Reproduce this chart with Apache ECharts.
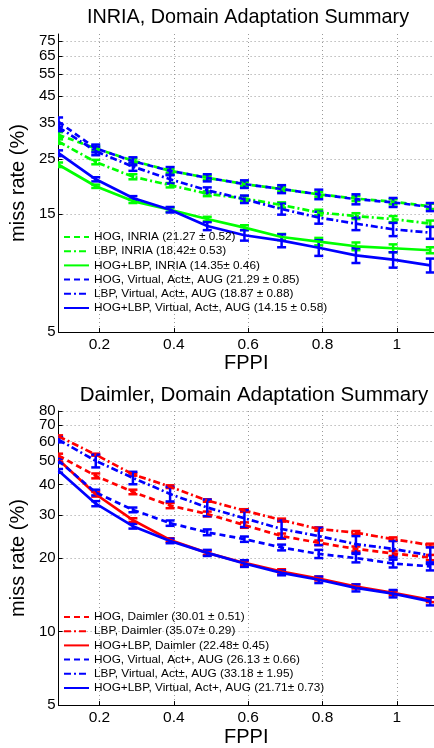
<!DOCTYPE html>
<html><head><meta charset="utf-8">
<script src="https://cdn.jsdelivr.net/npm/echarts@6/dist/echarts.min.js"></script>
<style>html,body{margin:0;padding:0;background:#fff}#c{width:434px;height:748px}</style>
</head><body><div id="c"></div>
<script>
// ---- data ----
const fppi = [0.09, 0.19, 0.29, 0.39, 0.49, 0.59, 0.69, 0.79, 0.89, 0.99, 1.09];
const xTicks = [0.2, 0.4, 0.6, 0.8, 1];
const yTicksTop = [5, 15, 25, 35, 45, 55, 65, 75];
const yTicksBottom = [5, 10, 20, 30, 40, 50, 60, 70, 80];

const titleTop = 'INRIA, Domain Adaptation Summary';
const titleBottom = 'Daimler, Domain Adaptation Summary';

// INRIA panel
const namesTop = [
  'HOG, INRIA (21.27 ± 0.52)',
  'LBP, INRIA (18.42± 0.53)',
  'HOG+LBP, INRIA (14.35± 0.46)',
  'HOG, Virtual, Act±, AUG (21.29 ± 0.85)',
  'LBP, Virtual, Act±, AUG (18.87 ± 0.88)',
  'HOG+LBP, Virtual, Act±, AUG (14.15 ± 0.58)'
];
const hogInria      = [31.3, 27.6, 24.6, 22.4, 21.0, 19.8, 18.9, 18.0, 17.3, 16.8, 16.1];
const lbpInria      = [29.4, 24.3, 21.2, 19.6, 18.1, 17.3, 16.3, 15.2, 14.7, 14.3, 13.7];
const hogLbpInria   = [23.7, 19.4, 16.9, 15.6, 14.3, 13.2, 12.1, 11.6, 11.1, 10.9, 10.7];
const hogVirtI      = [35.3, 27.6, 24.5, 22.4, 21.0, 19.8, 18.9, 18.0, 17.2, 16.7, 16.0];
const lbpVirtI      = [33.6, 26.9, 23.3, 20.7, 18.7, 17.2, 15.7, 14.5, 13.7, 13.0, 12.6];
const hogLbpVirtI   = [26.4, 20.7, 17.4, 15.6, 13.4, 12.3, 11.7, 10.95, 10.2, 9.8, 9.3];
const errHogInria    = [0.8, 0.5, 0.5, 0.4, 0.4, 0.4, 0.4, 0.4, 0.4, 0.4, 0.4];
const errLbpInria    = [0.6, 0.5, 0.5, 0.4, 0.4, 0.4, 0.4, 0.4, 0.4, 0.4, 0.4];
const errHogLbpInria = [0.5, 0.3, 0.3, 0.3, 0.3, 0.3, 0.35, 0.4, 0.4, 0.4, 0.3];
const errHogVirtI    = [1.5, 1.0, 0.9, 0.8, 0.7, 0.7, 0.7, 0.8, 0.8, 0.7, 0.6];
const errLbpVirtI    = [1.2, 1.0, 0.9, 0.8, 0.5, 0.6, 0.8, 0.8, 0.8, 0.8, 0.7];
const errHogLbpVirtI = [0.7, 0.4, 0.3, 0.4, 0.5, 0.6, 0.7, 0.8, 0.7, 0.7, 0.6];

// Daimler panel
const namesBottom = [
  'HOG, Daimler (30.01 ± 0.51)',
  'LBP, Daimler (35.07± 0.29)',
  'HOG+LBP, Daimler (22.48± 0.45)',
  'HOG, Virtual, Act+, AUG (26.13 ± 0.66)',
  'LBP, Virtual, Act±, AUG (33.18 ± 1.95)',
  'HOG+LBP, Virtual, Act+, AUG (21.71± 0.73)'
];
const hogDaimler     = [52.5, 43.4, 37.3, 32.8, 30.3, 27.3, 24.6, 23.1, 21.8, 20.9, 20.1];
const lbpDaimler     = [63.0, 53.0, 44.0, 39.2, 34.4, 31.3, 28.6, 26.3, 25.4, 23.9, 22.6];
const hogLbpDaimler  = [50.5, 36.5, 28.6, 23.7, 21.0, 19.1, 17.6, 16.5, 15.3, 14.4, 13.5];
const hogVirtD       = [50.0, 37.1, 31.5, 27.8, 25.5, 23.9, 22.1, 20.8, 20.0, 19.0, 18.5];
const lbpVirtD       = [61.0, 50.0, 42.6, 36.6, 32.2, 29.1, 26.3, 24.6, 22.8, 21.8, 20.5];
const hogLbpVirtD    = [45.5, 33.4, 27.0, 23.5, 21.0, 19.0, 17.4, 16.3, 15.1, 14.3, 13.3];
const errHogDaimler    = [1.0, 1.0, 0.8, 0.8, 0.7, 0.7, 0.6, 0.5, 0.5, 0.5, 0.5];
const errLbpDaimler    = [0.6, 0.5, 0.5, 0.5, 0.4, 0.4, 0.4, 0.4, 0.4, 0.4, 0.3];
const errHogLbpDaimler = [0.8, 0.8, 0.5, 0.4, 0.4, 0.4, 0.4, 0.3, 0.3, 0.3, 0.3];
const errHogVirtD      = [1.0, 1.0, 0.7, 0.7, 0.7, 0.6, 0.6, 0.8, 0.8, 0.7, 0.7];
const errLbpVirtD      = [1.5, 3.0, 2.5, 2.5, 2.5, 2.3, 2.2, 2.0, 1.8, 1.7, 1.6];
const errHogLbpVirtD   = [0.8, 0.8, 0.6, 0.5, 0.6, 0.6, 0.4, 0.5, 0.5, 0.5, 0.5];

// ---- styles ----
const GREEN = '#00ff00', BLUE = '#0000ff', RED = '#ff0000';
const DASH = [6, 4], DASHDOT = [7, 3, 2, 3], SOLID = 'solid';
const FONT = 'Liberation Sans, Arial, sans-serif';

const panels = [
  { names: namesTop,
    values: [hogInria, lbpInria, hogLbpInria, hogVirtI, lbpVirtI, hogLbpVirtI],
    errors: [errHogInria, errLbpInria, errHogLbpInria, errHogVirtI, errLbpVirtI, errHogLbpVirtI],
    colors: [GREEN, GREEN, GREEN, BLUE, BLUE, BLUE] },
  { names: namesBottom,
    values: [hogDaimler, lbpDaimler, hogLbpDaimler, hogVirtD, lbpVirtD, hogLbpVirtD],
    errors: [errHogDaimler, errLbpDaimler, errHogLbpDaimler, errHogVirtD, errLbpVirtD, errHogLbpVirtD],
    colors: [RED, RED, RED, BLUE, BLUE, BLUE] }
];
const dashes = [DASH, DASHDOT, SOLID, DASH, DASHDOT, SOLID];

function errRender(params, api) {
  const x = api.value(0), lo = api.value(1), hi = api.value(2);
  const p1 = api.coord([x, lo]), p2 = api.coord([x, hi]);
  const w = 4.5;
  const style = { stroke: api.visual('color'), lineWidth: 2.5 };
  return { type: 'group', children: [
    { type: 'line', shape: { x1: p1[0], y1: p1[1], x2: p2[0], y2: p2[1] }, style },
    { type: 'line', shape: { x1: p1[0] - w, y1: p1[1], x2: p1[0] + w, y2: p1[1] }, style },
    { type: 'line', shape: { x1: p2[0] - w, y1: p2[1], x2: p2[0] + w, y2: p2[1] }, style }
  ]};
}

const series = [];
panels.forEach((p, gi) => {
  p.values.forEach((vals, si) => {
    series.push({
      type: 'line', name: p.names[si], xAxisIndex: gi, yAxisIndex: gi,
      data: fppi.map((x, k) => [x, vals[k]]),
      symbol: 'none', showSymbol: false, clip: true,
      lineStyle: { color: p.colors[si], width: 2.7, type: dashes[si] },
      itemStyle: { color: p.colors[si] },
      animation: false
    });
    series.push({
      type: 'custom', xAxisIndex: gi, yAxisIndex: gi, clip: true,
      data: fppi.map((x, k) => [x, vals[k] - p.errors[si][k], vals[k] + p.errors[si][k]]),
      renderItem: errRender, itemStyle: { color: p.colors[si] },
      encode: { x: 0, y: [1, 2] }, animation: false, silent: true
    });
  });
});

function xAxis(gi) {
  return {
    gridIndex: gi, type: 'value', min: 0.09, max: 1.1,
    axisLine: { onZero: false, lineStyle: { color: '#000', width: 1 } },
    axisTick: { inside: true, length: 4, customValues: xTicks, lineStyle: { color: '#000' } },
    axisLabel: { customValues: xTicks, color: '#000', fontSize: 15.5, margin: 5, fontFamily: FONT },
    splitLine: { show: true, lineStyle: { type: [1, 3], color: '#999', width: 1 } },
    name: 'FPPI', nameLocation: 'middle', nameGap: 18,
    nameTextStyle: { color: '#000', fontSize: 20, fontFamily: FONT }
  };
}
function yAxis(gi, ticks, labels, max) {
  return {
    gridIndex: gi, type: 'log', logBase: 10, min: 5, max: max,
    axisLine: { show: true, lineStyle: { color: '#000', width: 1 } },
    axisTick: { show: true, inside: true, length: 4, customValues: ticks, lineStyle: { color: '#000' } },
    axisLabel: { customValues: labels, color: '#000', fontSize: 15, margin: 3, fontFamily: FONT,
                 showMaxLabel: true, showMinLabel: true, hideOverlap: false, lineHeight: 11 },
    splitLine: { show: true, lineStyle: { type: [1, 3], color: '#999', width: 1 } },
    minorTick: { show: false }, minorSplitLine: { show: false },
    name: 'miss rate (%)', nameLocation: 'middle', nameGap: 21, nameRotate: 90,
    nameTextStyle: { color: '#000', fontSize: 20, fontFamily: FONT }
  };
}
// label-only companion axis (same scale) so that crowded top label is not auto-hidden
function yLabelAxis(gi, labels, max) {
  return {
    gridIndex: gi, type: 'log', logBase: 10, min: 5, max: max, position: 'left', offset: 0,
    axisLine: { show: false }, axisTick: { show: false },
    axisLabel: { customValues: labels, color: '#000', fontSize: 15, margin: 3, fontFamily: FONT,
                 showMaxLabel: true, lineHeight: 11 },
    splitLine: { show: false }, minorTick: { show: false }, minorSplitLine: { show: false }
  };
}
function legend(gi, top) {
  return {
    data: panels[gi].names, orient: 'vertical', left: 63, top: top, padding: 0,
    itemWidth: 25, itemHeight: 14, itemGap: 2.2,
    itemStyle: { opacity: 0 },
    textStyle: { color: '#000', fontSize: 11.8, fontFamily: FONT },
    selectedMode: false, backgroundColor: 'transparent'
  };
}

const option = {
  animation: false,
  backgroundColor: '#fff',
  title: [
    { text: titleTop, left: 243, textAlign: 'center', top: 3,
      textStyle: { fontSize: 19.8, fontWeight: 'normal', color: '#000', fontFamily: FONT } },
    { text: titleBottom, left: 249, textAlign: 'center', top: 380,
      textStyle: { fontSize: 20.5, fontWeight: 'normal', color: '#000', fontFamily: FONT } }
  ],
  grid: [
    { left: 55, top: 34, width: 382, height: 298, containLabel: false },
    { left: 55, top: 411, width: 382, height: 303, containLabel: false }
  ],
  xAxis: [xAxis(0), xAxis(1)],
  yAxis: [
    yAxis(0, yTicksTop, yTicksTop, 80),
    yAxis(1, yTicksBottom, yTicksBottom.slice(0, -1), 80),
    yLabelAxis(1, yTicksBottom.slice(-1), 80)
  ],
  legend: [legend(0, 231), legend(1, 611)],
  series: series
};

const chart = echarts.init(document.getElementById('c'), null, { renderer: 'canvas' });
chart.setOption(option);
</script>
</body></html>
